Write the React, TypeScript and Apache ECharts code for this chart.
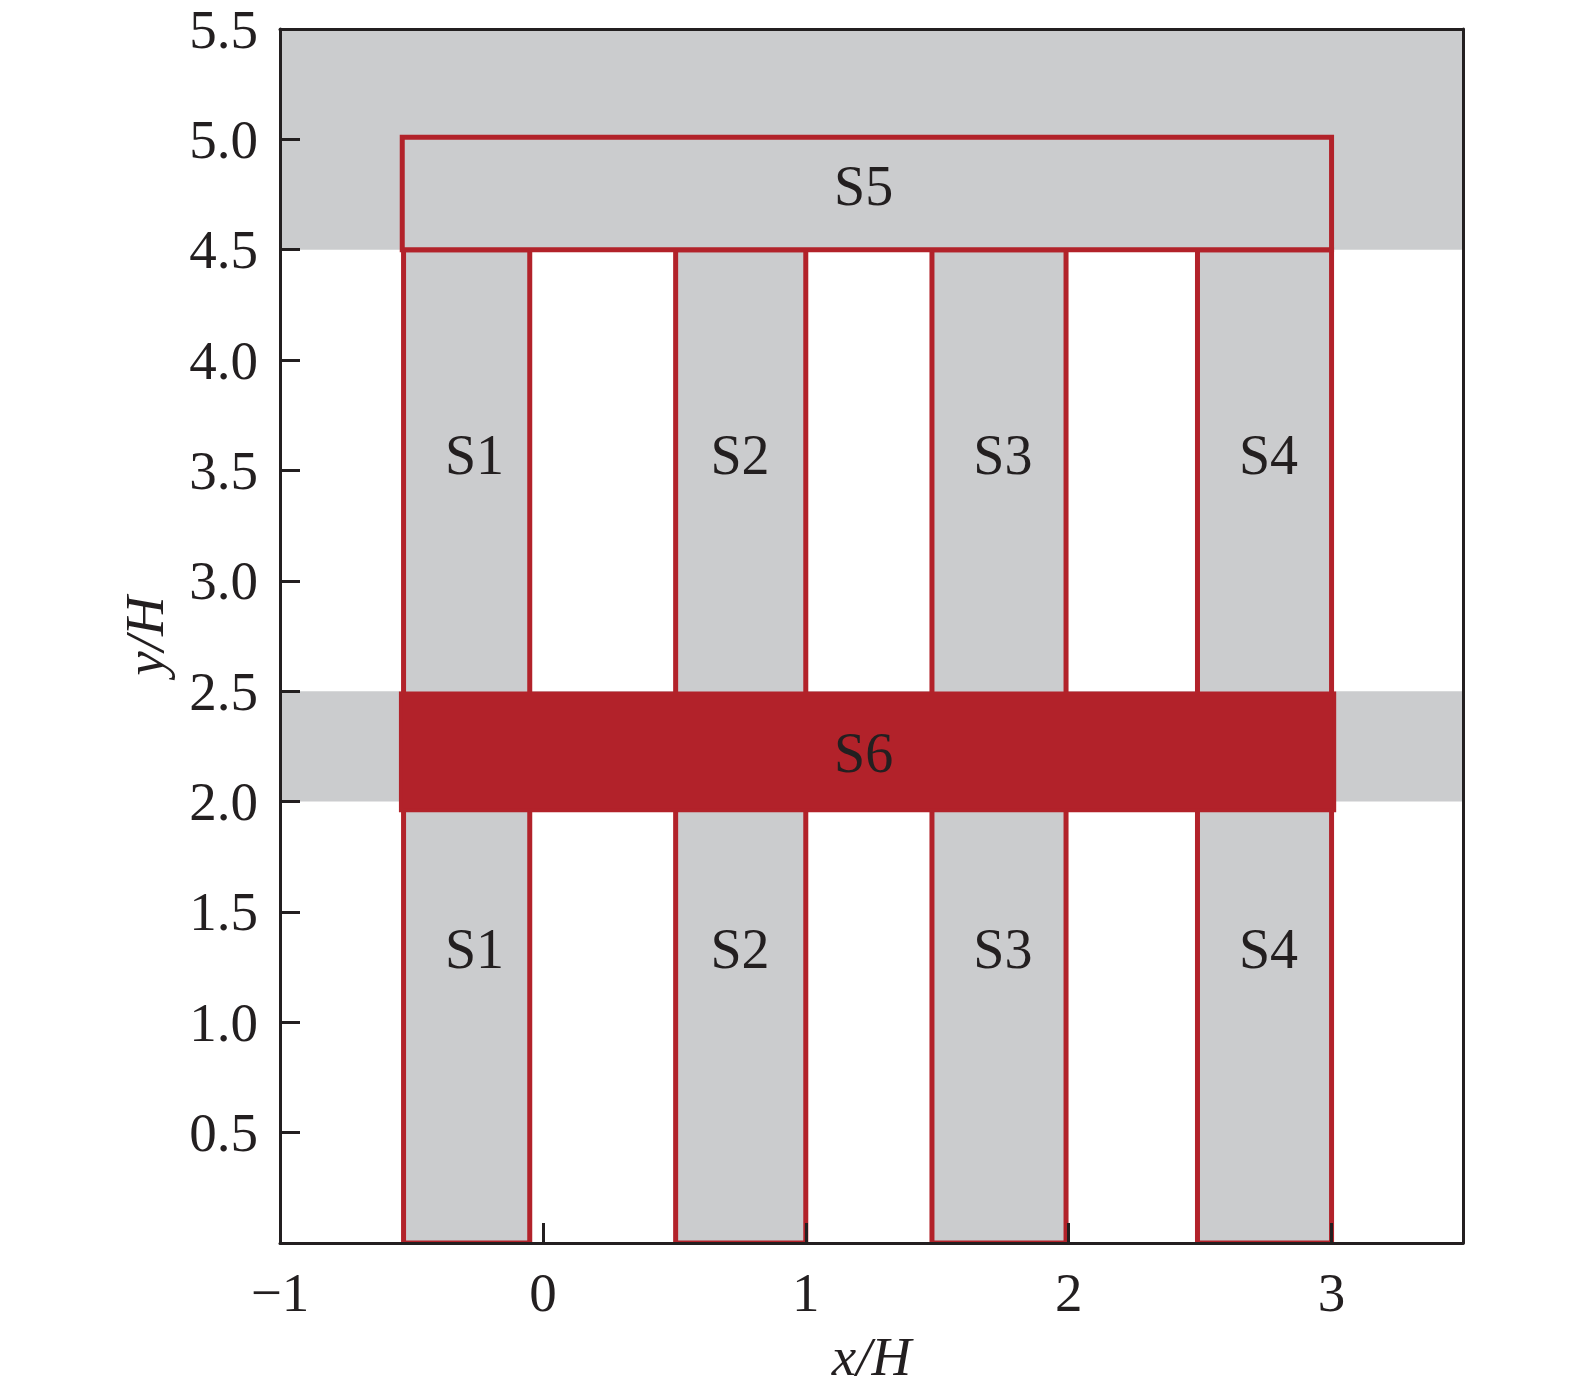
import React, { useEffect, useRef } from 'react';
import * as echarts from 'echarts';

// grey background bands [x0, x1, y0, y1]
const bands = [
  [-1, 3.5, 4.5, 5.5],
  [-1, 3.5, 2.0, 2.5],
];

// vertical strips S1..S4 and the top cap S5
const strips = [
  [-0.53, -0.05, 0, 4.5],
  [0.505, 1.0, 0, 4.5],
  [1.48, 1.99, 0, 4.5],
  [2.49, 3.0, 0, 4.5],
  [-0.535, 3.0, 4.5, 5.01],
];

// red slab S6
const slab = [[-0.54, 3.01, 1.96, 2.49]];

// region labels [x, y, name]
const regionLabels = [
  [-0.26, 3.57, 'S1'],
  [0.75, 3.57, 'S2'],
  [1.75, 3.57, 'S3'],
  [2.76, 3.57, 'S4'],
  [-0.26, 1.33, 'S1'],
  [0.75, 1.33, 'S2'],
  [1.75, 1.33, 'S3'],
  [2.76, 1.33, 'S4'],
  [1.22, 4.79, 'S5'],
  [1.22, 2.22, 'S6'],
];

const GREY = '#CBCCCE';
const RED = '#B2222A';
const INK = '#231F20';
const FONT = '"Liberation Serif", "Times New Roman", serif';

const rectItem = (fill: string, stroke: string | null, lw: number) => (params: any, api: any) => {
  const p0 = api.coord([api.value(0), api.value(3)]);
  const p1 = api.coord([api.value(1), api.value(2)]);
  return {
    type: 'rect',
    shape: { x: p0[0], y: p0[1], width: p1[0] - p0[0], height: p1[1] - p0[1] },
    style: { fill, stroke: stroke || 'none', lineWidth: lw },
  };
};

const App: React.FC = () => {
  const chartRef = useRef<HTMLDivElement>(null);

  useEffect(() => {
    document.body.style.margin = '0';
    if (!chartRef.current) return;
    const chart = echarts.init(chartRef.current, null, { renderer: 'svg' });

    const axisCommon = {
      type: 'value',
      z: 5,
      axisLine: { show: true, onZero: false, lineStyle: { color: INK, width: 3 } },
      splitLine: { show: false },
    };

    const option = {
      animation: false,
      backgroundColor: '#fff',
      textStyle: { fontFamily: FONT },
      grid: { left: 280, right: 112, top: 29, bottom: 151 },
      xAxis: [
        {
          ...axisCommon,
          min: -1,
          max: 3.5,
          interval: 1,
          position: 'bottom',
          name: 'x/H',
          nameLocation: 'middle',
          nameGap: 86,
          nameTextStyle: { fontSize: 55, fontStyle: 'italic', color: INK, fontFamily: FONT },
          axisTick: { show: true, inside: true, length: 20, lineStyle: { color: INK, width: 3 } },
          axisLabel: {
            margin: 22,
            fontSize: 55,
            color: INK,
            fontFamily: FONT,
            formatter: (v: number) => (v === 3.5 ? '' : v < 0 ? '\u2212' + Math.abs(v) : String(v)),
          },
        },
        {
          ...axisCommon,
          min: -1,
          max: 3.5,
          position: 'top',
          axisTick: { show: false },
          axisLabel: { show: false },
        },
      ],
      yAxis: [
        {
          ...axisCommon,
          min: 0,
          max: 5.5,
          interval: 0.5,
          position: 'left',
          name: 'y/H',
          nameLocation: 'middle',
          nameGap: 108,
          nameTextStyle: { fontSize: 55, fontStyle: 'italic', color: INK, fontFamily: FONT },
          axisTick: { show: true, inside: true, length: 20, lineStyle: { color: INK, width: 3 } },
          axisLabel: {
            margin: 22,
            fontSize: 55,
            color: INK,
            fontFamily: FONT,
            formatter: (v: number) => (v === 0 ? '' : v.toFixed(1)),
          },
        },
        {
          ...axisCommon,
          min: 0,
          max: 5.5,
          position: 'right',
          axisTick: { show: false },
          axisLabel: { show: false },
        },
      ],
      series: [
        {
          type: 'custom',
          z: 1,
          clip: true,
          renderItem: rectItem(GREY, null, 0),
          encode: { x: [0, 1], y: [2, 3] },
          data: bands,
        },
        {
          type: 'custom',
          z: 2,
          clip: true,
          renderItem: rectItem(GREY, RED, 5),
          encode: { x: [0, 1], y: [2, 3] },
          data: strips,
        },
        {
          type: 'custom',
          z: 3,
          clip: true,
          renderItem: rectItem(RED, RED, 4),
          encode: { x: [0, 1], y: [2, 3] },
          data: slab,
        },
        {
          type: 'scatter',
          z: 4,
          symbolSize: 0,
          silent: true,
          itemStyle: { opacity: 1 },
          data: regionLabels,
          label: {
            show: true,
            position: 'inside',
            formatter: (p: any) => p.value[2],
            fontSize: 56,
            color: INK,
            opacity: 1,
            fontFamily: FONT,
          },
        },
      ],
    };

    chart.setOption(option);
    return () => {
      chart.dispose();
    };
  }, []);

  return <div ref={chartRef} style={{ width: 1575, height: 1394 }} />;
};

export default App;
